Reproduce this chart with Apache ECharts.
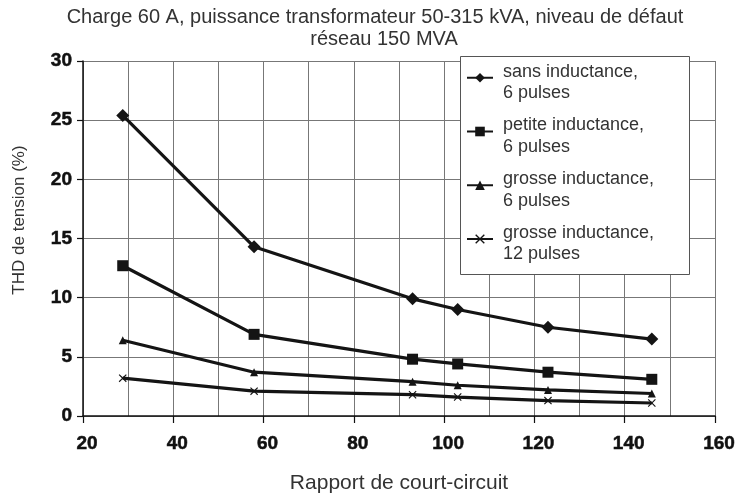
<!DOCTYPE html>
<html>
<head>
<meta charset="utf-8">
<script src="https://cdn.jsdelivr.net/npm/echarts@6/dist/echarts.min.js"></script>
<style>html,body{margin:0;padding:0;background:#fff}#c{width:742px;height:499px}</style>
</head>
<body>
<div id="c"></div>
<script>
var titleLines = ['Charge 60 A, puissance transformateur 50-315 kVA, niveau de défaut', 'réseau 150 MVA'];
var xName = 'Rapport de court-circuit';
var yName = 'THD de tension (%)';
var seriesNames = ['sans inductance, 6 pulses', 'petite inductance, 6 pulses', 'grosse inductance, 6 pulses', 'grosse inductance, 12 pulses'];
var ratio = [28.8, 57.9, 93, 103, 123, 146];
var sansInd6 = [25.4, 14.3, 9.9, 9.0, 7.5, 6.5];
var petiteInd6 = [12.7, 6.9, 4.8, 4.4, 3.7, 3.1];
var grosseInd6 = [6.4, 3.7, 2.9, 2.6, 2.2, 1.9];
var grosseInd12 = [3.2, 2.1, 1.8, 1.6, 1.3, 1.1];

var FONT = "'Liberation Sans', Arial, Helvetica, sans-serif";
var crossPath = 'path://M0,1L1,0L5,4L9,0L10,1L6,5L10,9L9,10L5,6L1,10L0,9L4,5Z';
var values = [sansInd6, petiteInd6, grosseInd6, grosseInd12];
var symbols = ['diamond', 'rect', 'triangle', crossPath];
var sizes = [13, 11, 8, 8];

function pairs(v) { return ratio.map(function (x, i) { return [x, v[i]]; }); }

var titleStyle = {fontFamily: FONT, fontSize: 20, fontWeight: 'normal', color: '#333', lineHeight: 22};
var tickLabelStyle = {fontFamily: FONT, fontSize: 19, fontWeight: 'bold', color: '#111', textBorderColor: '#111', textBorderWidth: 0.5};

var chart = echarts.init(document.getElementById('c'), null, {renderer: 'canvas'});
chart.setOption({
  animation: false,
  backgroundColor: '#fff',
  textStyle: {fontFamily: FONT},
  title: [
    {text: titleLines[0], left: 375, top: 6, padding: 0, textAlign: 'center', textStyle: titleStyle},
    {text: titleLines[1], left: 384, top: 28, padding: 0, textAlign: 'center', textStyle: titleStyle}
  ],
  grid: {left: 83, right: 27, top: 61, bottom: 76.5, containLabel: false},
  xAxis: {
    type: 'value', min: 20, max: 160, interval: 20,
    name: xName, nameLocation: 'middle', nameGap: 57,
    nameTextStyle: {fontFamily: FONT, fontSize: 21, color: '#333'},
    axisLine: {show: true, lineStyle: {color: '#111', width: 1.5}},
    axisTick: {show: true, inside: false, length: 7, lineStyle: {color: '#111', width: 1.2}},
    axisLabel: Object.assign({margin: 18, padding: [0, 0, 0, 8]}, tickLabelStyle),
    splitLine: {show: true, lineStyle: {color: '#777', width: 1}},
    minorTick: {show: false, splitNumber: 2},
    minorSplitLine: {show: true, lineStyle: {color: '#777', width: 1}}
  },
  yAxis: {
    type: 'value', min: 0, max: 30, interval: 5,
    name: yName, nameLocation: 'middle', nameGap: 55, nameRotate: 90,
    nameTextStyle: {fontFamily: FONT, fontSize: 17, color: '#333', padding: [0, 0, 0, 37]},
    axisLine: {show: true, lineStyle: {color: '#111', width: 1.5}},
    axisTick: {show: true, inside: false, length: 6, lineStyle: {color: '#111', width: 1.2}},
    axisLabel: Object.assign({margin: 11}, tickLabelStyle),
    splitLine: {show: true, lineStyle: {color: '#777', width: 1}}
  },
  graphic: [{
    type: 'rect', z: 3,
    shape: {x: 460.5, y: 56.5, width: 229, height: 218},
    style: {fill: '#fff', stroke: '#555', lineWidth: 1}
  }],
  legend: {
    orient: 'vertical', left: 466, top: 51.5, padding: 0, z: 5,
    itemWidth: 26, itemHeight: 12, itemGap: 3,
    data: seriesNames,
    formatter: function (n) {
      var parts = n.split(', ');
      return '{p| }\n{a|' + parts[0] + ',}\n{a|' + parts[1] + '}';
    },
    textStyle: {
      fontFamily: FONT, fontSize: 18, color: '#333', padding: [0, 0, 0, 5],
      rich: {
        p: {fontSize: 1, lineHeight: 9.5, height: 9.5},
        a: {fontFamily: FONT, fontSize: 18, color: '#333', lineHeight: 21.5}
      }
    }
  },
  series: seriesNames.map(function (n, i) {
    return {
      name: n, type: 'line', z: 2,
      data: pairs(values[i]),
      symbol: symbols[i], symbolSize: sizes[i],
      showAllSymbol: true,
      lineStyle: {color: '#141414', width: 3.2},
      itemStyle: {color: '#141414', borderWidth: 0}
    };
  })
});
</script>
</body>
</html>
